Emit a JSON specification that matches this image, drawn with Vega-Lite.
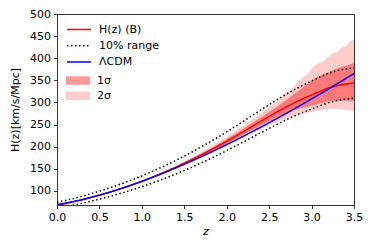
{
  "$schema": "https://vega.github.io/schema/vega-lite/v6.json",
  "width": 297,
  "height": 191,
  "autosize": {"type": "none"},
  "padding": {"left": 57, "top": 14, "right": 20, "bottom": 44},
  "background": "white",
  "config": {
    "font": "DejaVu Sans",
    "view": {"stroke": "#333", "strokeWidth": 1},
    "axis": {"grid": false, "domainColor": "#333", "tickColor": "#333", "tickSize": 3.5, "labelFontSize": 11, "labelColor": "black", "labelFont": "DejaVu Sans", "titleFont": "DejaVu Sans", "titleFontSize": 11, "titleFontWeight": "normal", "titleColor": "black", "labelPadding": 3},
    "legend": {"orient": "none", "legendX": 15, "legendY": 8.5, "title": null, "symbolSize": 144, "labelFontSize": 11, "labelFont": "DejaVu Sans", "labelColor": "black", "labelOffset": 13, "rowPadding": 4.3, "padding": 0}
  },
  "datasets": {
    "lines": [
      {"z": 0.0, "lcdm": 69.0, "hb": 67.5, "up": 74.3, "lo": 60.8},
      {"z": 0.1, "lcdm": 72.3, "hb": 71.3, "up": 78.4, "lo": 64.2},
      {"z": 0.2, "lcdm": 76.2, "hb": 75.4, "up": 82.9, "lo": 67.9},
      {"z": 0.3, "lcdm": 80.4, "hb": 79.9, "up": 87.9, "lo": 71.9},
      {"z": 0.4, "lcdm": 85.2, "hb": 84.9, "up": 93.4, "lo": 76.4},
      {"z": 0.5, "lcdm": 90.3, "hb": 90.3, "up": 99.3, "lo": 81.3},
      {"z": 0.6, "lcdm": 95.8, "hb": 95.8, "up": 105.4, "lo": 86.2},
      {"z": 0.7, "lcdm": 101.7, "hb": 101.7, "up": 111.9, "lo": 91.5},
      {"z": 0.8, "lcdm": 108.0, "hb": 108.0, "up": 118.8, "lo": 97.2},
      {"z": 0.9, "lcdm": 114.6, "hb": 114.6, "up": 126.1, "lo": 103.1},
      {"z": 1.0, "lcdm": 121.5, "hb": 121.5, "up": 133.7, "lo": 109.4},
      {"z": 1.1, "lcdm": 128.7, "hb": 129.0, "up": 141.9, "lo": 116.1},
      {"z": 1.2, "lcdm": 136.2, "hb": 136.8, "up": 150.5, "lo": 123.1},
      {"z": 1.3, "lcdm": 143.9, "hb": 144.9, "up": 159.4, "lo": 130.4},
      {"z": 1.4, "lcdm": 151.9, "hb": 153.4, "up": 168.7, "lo": 138.1},
      {"z": 1.5, "lcdm": 160.2, "hb": 162.4, "up": 178.6, "lo": 146.2},
      {"z": 1.6, "lcdm": 168.6, "hb": 171.6, "up": 188.8, "lo": 154.4},
      {"z": 1.7, "lcdm": 177.3, "hb": 181.3, "up": 199.4, "lo": 163.2},
      {"z": 1.8, "lcdm": 186.2, "hb": 191.2, "up": 210.3, "lo": 172.1},
      {"z": 1.9, "lcdm": 195.4, "hb": 201.4, "up": 221.5, "lo": 181.3},
      {"z": 2.0, "lcdm": 204.7, "hb": 212.2, "up": 233.4, "lo": 191.0},
      {"z": 2.1, "lcdm": 214.2, "hb": 223.2, "up": 245.5, "lo": 200.9},
      {"z": 2.2, "lcdm": 223.9, "hb": 234.4, "up": 257.8, "lo": 211.0},
      {"z": 2.3, "lcdm": 233.8, "hb": 245.8, "up": 270.4, "lo": 221.2},
      {"z": 2.4, "lcdm": 243.9, "hb": 256.9, "up": 282.6, "lo": 231.2},
      {"z": 2.5, "lcdm": 254.1, "hb": 268.1, "up": 294.9, "lo": 241.3},
      {"z": 2.6, "lcdm": 264.5, "hb": 279.0, "up": 306.9, "lo": 251.1},
      {"z": 2.7, "lcdm": 275.1, "hb": 289.6, "up": 318.6, "lo": 260.6},
      {"z": 2.8, "lcdm": 285.8, "hb": 299.3, "up": 329.2, "lo": 269.4},
      {"z": 2.9, "lcdm": 296.8, "hb": 308.3, "up": 339.1, "lo": 277.5},
      {"z": 3.0, "lcdm": 307.8, "hb": 316.8, "up": 348.5, "lo": 285.1},
      {"z": 3.1, "lcdm": 319.0, "hb": 325.0, "up": 357.5, "lo": 292.5},
      {"z": 3.2, "lcdm": 330.4, "hb": 332.9, "up": 366.2, "lo": 299.6},
      {"z": 3.3, "lcdm": 341.9, "hb": 338.0, "up": 371.8, "lo": 304.2},
      {"z": 3.4, "lcdm": 353.6, "hb": 341.5, "up": 375.7, "lo": 307.4},
      {"z": 3.5, "lcdm": 365.4, "hb": 344.0, "up": 378.4, "lo": 309.6}
    ],
    "bands": [
      {"z": 0.0, "s1lo": 67.0, "s1hi": 68.0, "s2lo": 66.5, "s2hi": 68.5},
      {"z": 0.1, "s1lo": 70.8, "s1hi": 71.8, "s2lo": 70.3, "s2hi": 72.3},
      {"z": 0.2, "s1lo": 74.9, "s1hi": 75.9, "s2lo": 74.4, "s2hi": 76.4},
      {"z": 0.3, "s1lo": 79.4, "s1hi": 80.4, "s2lo": 78.9, "s2hi": 80.9},
      {"z": 0.4, "s1lo": 84.4, "s1hi": 85.4, "s2lo": 83.9, "s2hi": 85.9},
      {"z": 0.5, "s1lo": 89.8, "s1hi": 90.8, "s2lo": 89.3, "s2hi": 91.3},
      {"z": 0.6, "s1lo": 95.3, "s1hi": 96.3, "s2lo": 94.8, "s2hi": 96.8},
      {"z": 0.7, "s1lo": 101.2, "s1hi": 102.2, "s2lo": 100.7, "s2hi": 102.7},
      {"z": 0.8, "s1lo": 107.5, "s1hi": 108.5, "s2lo": 107.0, "s2hi": 109.0},
      {"z": 0.9, "s1lo": 114.0, "s1hi": 115.2, "s2lo": 113.4, "s2hi": 115.8},
      {"z": 1.0, "s1lo": 120.7, "s1hi": 122.3, "s2lo": 119.9, "s2hi": 123.1},
      {"z": 1.1, "s1lo": 128.0, "s1hi": 130.0, "s2lo": 127.0, "s2hi": 131.0},
      {"z": 1.2, "s1lo": 135.6, "s1hi": 138.0, "s2lo": 134.3, "s2hi": 139.3},
      {"z": 1.3, "s1lo": 143.4, "s1hi": 146.4, "s2lo": 141.9, "s2hi": 147.9},
      {"z": 1.4, "s1lo": 151.6, "s1hi": 155.2, "s2lo": 149.8, "s2hi": 157.0},
      {"z": 1.5, "s1lo": 160.2, "s1hi": 164.6, "s2lo": 158.0, "s2hi": 166.8},
      {"z": 1.6, "s1lo": 169.0, "s1hi": 174.2, "s2lo": 166.4, "s2hi": 176.8},
      {"z": 1.7, "s1lo": 178.3, "s1hi": 184.3, "s2lo": 175.1, "s2hi": 187.5},
      {"z": 1.8, "s1lo": 187.7, "s1hi": 194.7, "s2lo": 184.0, "s2hi": 198.4},
      {"z": 1.9, "s1lo": 197.2, "s1hi": 205.6, "s2lo": 193.0, "s2hi": 209.8},
      {"z": 2.0, "s1lo": 207.2, "s1hi": 217.2, "s2lo": 202.2, "s2hi": 222.2},
      {"z": 2.1, "s1lo": 217.4, "s1hi": 229.0, "s2lo": 211.8, "s2hi": 234.8},
      {"z": 2.2, "s1lo": 227.8, "s1hi": 241.1, "s2lo": 221.4, "s2hi": 247.8},
      {"z": 2.3, "s1lo": 238.2, "s1hi": 253.6, "s2lo": 230.8, "s2hi": 261.3},
      {"z": 2.4, "s1lo": 248.2, "s1hi": 265.9, "s2lo": 239.9, "s2hi": 274.9},
      {"z": 2.5, "s1lo": 258.1, "s1hi": 278.6, "s2lo": 248.6, "s2hi": 289.1},
      {"z": 2.6, "s1lo": 267.5, "s1hi": 291.5, "s2lo": 256.5, "s2hi": 304.0},
      {"z": 2.7, "s1lo": 276.1, "s1hi": 305.6, "s2lo": 263.6, "s2hi": 320.6},
      {"z": 2.75, "s1lo": 279.5, "s1hi": 313.0, "s2lo": 266.5, "s2hi": 327.0},
      {"z": 2.8, "s1lo": 282.8, "s1hi": 320.0, "s2lo": 269.3, "s2hi": 338.0},
      {"z": 2.85, "s1lo": 285.5, "s1hi": 327.0, "s2lo": 272.0, "s2hi": 349.0},
      {"z": 2.9, "s1lo": 288.3, "s1hi": 334.5, "s2lo": 274.3, "s2hi": 357.0},
      {"z": 2.95, "s1lo": 290.5, "s1hi": 342.0, "s2lo": 276.5, "s2hi": 364.0},
      {"z": 3.0, "s1lo": 292.8, "s1hi": 349.0, "s2lo": 278.8, "s2hi": 376.0},
      {"z": 3.05, "s1lo": 295.5, "s1hi": 355.0, "s2lo": 280.5, "s2hi": 385.0},
      {"z": 3.1, "s1lo": 298.0, "s1hi": 360.0, "s2lo": 282.0, "s2hi": 390.0},
      {"z": 3.15, "s1lo": 300.0, "s1hi": 364.0, "s2lo": 283.5, "s2hi": 395.0},
      {"z": 3.2, "s1lo": 302.0, "s1hi": 369.0, "s2lo": 284.9, "s2hi": 404.0},
      {"z": 3.25, "s1lo": 303.0, "s1hi": 373.0, "s2lo": 285.0, "s2hi": 412.0},
      {"z": 3.3, "s1lo": 304.0, "s1hi": 377.0, "s2lo": 285.0, "s2hi": 413.0},
      {"z": 3.35, "s1lo": 304.0, "s1hi": 380.0, "s2lo": 284.0, "s2hi": 424.0},
      {"z": 3.4, "s1lo": 304.0, "s1hi": 383.0, "s2lo": 283.0, "s2hi": 426.0},
      {"z": 3.45, "s1lo": 304.0, "s1hi": 386.0, "s2lo": 282.0, "s2hi": 437.0},
      {"z": 3.5, "s1lo": 304.0, "s1hi": 389.0, "s2lo": 281.0, "s2hi": 443.0}
    ]
  },
  "encoding": {
    "x": {"field": "z", "type": "quantitative", "scale": {"domain": [0, 3.5], "nice": false},
      "axis": {"title": "z", "titleFontStyle": "italic", "values": [0, 0.5, 1, 1.5, 2, 2.5, 3, 3.5], "format": ".1f", "titleY": 26, "titleBaseline": "middle", "labelFlush": false}}
  },
  "layer": [
    {
      "data": {"name": "bands"},
      "mark": {"type": "area", "clip": true},
      "encoding": {
        "y": {"field": "s2lo", "type": "quantitative", "scale": {"domain": [68, 500], "nice": false, "zero": false},
          "axis": {"title": "H(z)[km/s/Mpc]", "values": [100, 150, 200, 250, 300, 350, 400, 450, 500], "titleX": -42, "titleBaseline": "middle"}},
        "y2": {"field": "s2hi"},
        "fill": {"datum": "2σ", "type": "nominal",
          "scale": {"domain": ["1σ", "2σ"], "range": ["#ff0000", "#ff0000"]},
          "legend": {"legendX": 15, "legendY": 60.5, "symbolType": "M-2,-0.7H2V0.7H-2Z", "symbolStrokeWidth": 0}},
        "opacity": {"datum": "2σ", "type": "nominal",
          "scale": {"domain": ["1σ", "2σ"], "range": [0.4, 0.2]},
          "legend": {"legendX": 15, "legendY": 60.5, "symbolType": "M-2,-0.7H2V0.7H-2Z", "symbolStrokeWidth": 0}}
      }
    },
    {
      "data": {"name": "bands"},
      "mark": {"type": "area", "clip": true},
      "encoding": {
        "y": {"field": "s1lo", "type": "quantitative", "axis": {"title": "H(z)[km/s/Mpc]", "values": [100, 150, 200, 250, 300, 350, 400, 450, 500], "titleX": -42, "titleBaseline": "middle"}},
        "y2": {"field": "s1hi"},
        "fill": {"datum": "1σ", "type": "nominal"},
        "opacity": {"datum": "1σ", "type": "nominal"}
      }
    },
    {
      "data": {"name": "lines"},
      "mark": {"type": "line", "strokeWidth": 1.5, "clip": true},
      "encoding": {
        "y": {"field": "hb", "type": "quantitative", "axis": {"title": "H(z)[km/s/Mpc]", "values": [100, 150, 200, 250, 300, 350, 400, 450, 500], "titleX": -42, "titleBaseline": "middle"}},
        "stroke": {"datum": "H(z) (B)", "type": "nominal",
          "scale": {"domain": ["H(z) (B)", "10% range", "ΛCDM"], "range": ["#ff0000", "#000000", "#0000ff"]},
          "legend": {"legendX": 15, "legendY": 8.5, "symbolType": "M-2,0H2", "symbolStrokeWidth": 1.5}},
        "strokeDash": {"datum": "H(z) (B)", "type": "nominal",
          "scale": {"domain": ["H(z) (B)", "10% range", "ΛCDM"], "range": [[1, 0], [1.5, 2.5], [1, 0]]},
          "legend": {"legendX": 15, "legendY": 8.5, "symbolType": "M-2,0H2", "symbolStrokeWidth": 1.5}}
      }
    },
    {
      "data": {"name": "lines"},
      "mark": {"type": "line", "strokeWidth": 1.5, "clip": true},
      "encoding": {
        "y": {"field": "up", "type": "quantitative", "axis": {"title": "H(z)[km/s/Mpc]", "values": [100, 150, 200, 250, 300, 350, 400, 450, 500], "titleX": -42, "titleBaseline": "middle"}},
        "stroke": {"datum": "10% range", "type": "nominal"},
        "strokeDash": {"datum": "10% range", "type": "nominal"}
      }
    },
    {
      "data": {"name": "lines"},
      "mark": {"type": "line", "strokeWidth": 1.5, "clip": true},
      "encoding": {
        "y": {"field": "lo", "type": "quantitative", "axis": {"title": "H(z)[km/s/Mpc]", "values": [100, 150, 200, 250, 300, 350, 400, 450, 500], "titleX": -42, "titleBaseline": "middle"}},
        "stroke": {"datum": "10% range", "type": "nominal"},
        "strokeDash": {"datum": "10% range", "type": "nominal"}
      }
    },
    {
      "data": {"name": "lines"},
      "mark": {"type": "line", "strokeWidth": 1.5, "clip": true},
      "encoding": {
        "y": {"field": "lcdm", "type": "quantitative", "axis": {"title": "H(z)[km/s/Mpc]", "values": [100, 150, 200, 250, 300, 350, 400, 450, 500], "titleX": -42, "titleBaseline": "middle"}},
        "stroke": {"datum": "ΛCDM", "type": "nominal"},
        "strokeDash": {"datum": "ΛCDM", "type": "nominal"}
      }
    }
  ]
}
